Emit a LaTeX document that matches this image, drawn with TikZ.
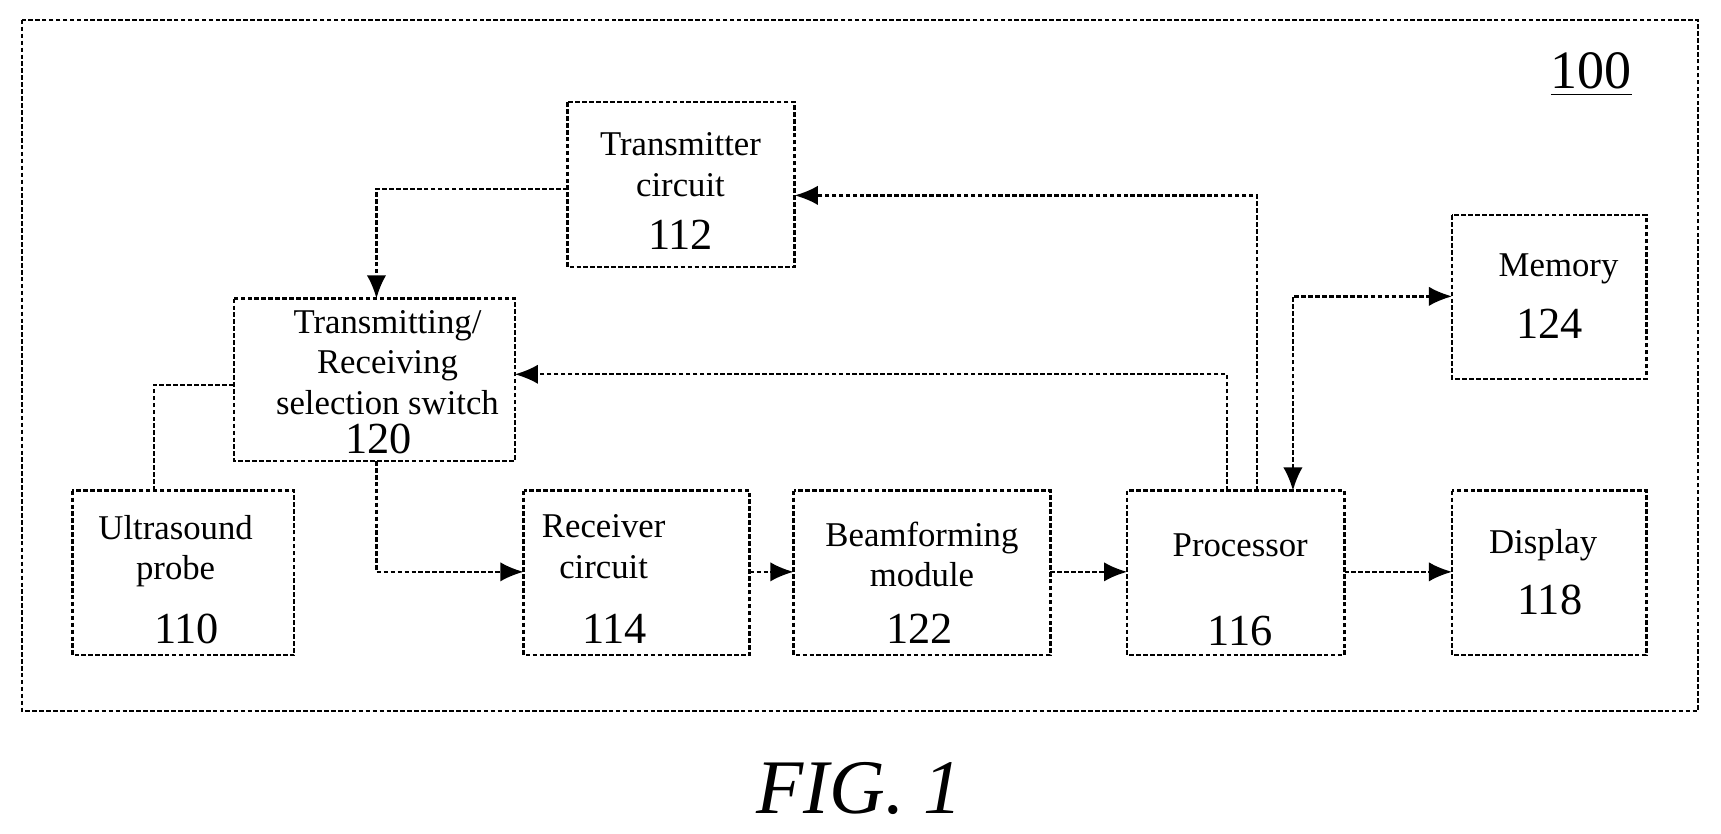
\documentclass[tikz,border=0pt]{standalone}
\usepackage{fontspec}
\setmainfont{Liberation Serif}
\usetikzlibrary{arrows.meta}
\begin{document}
\begin{tikzpicture}[x=0.01cm,y=-0.01cm,
  ln/.style={line width=0.6pt,dash pattern=on 1.2pt off 0.6pt},
  box/.style={draw,ln,rectangle},
  arr/.style={ln,-{Latex[length=6pt,width=5pt]}},
  t/.style={font=\fontsize{9}{10.5}\selectfont,align=center},
  n/.style={font=\fontsize{11.5}{12}\selectfont}]
\useasboundingbox (0,0) rectangle (1568,759);
\draw[ln] (20,18) rectangle (1547,648);
\node[font=\fontsize{14}{15}\selectfont] (lbl) at (1450,68) {\underline{100}};
\draw[box] (517,93) rectangle (724,243);
\coordinate (txL) at (517,172); \coordinate (txR) at (724,178);
\node[t] at (620,150) {Transmitter\\circuit};
\node[n] at (620,214) {112};
\draw[box] (213,272) rectangle (469,420);
\coordinate (swT) at (343,272); \coordinate (swR) at (469,341);
\coordinate (swL) at (213,351); \coordinate (swB) at (343,420);
\node[t] at (353,330) {Transmitting/\\Receiving\\selection switch};
\node[n] at (345,400) {120};
\draw[box] (66,447) rectangle (268,597);
\coordinate (prT) at (140,447);
\node[t] at (160,502) {Ultrasound\\probe};
\node[n] at (170,573) {110};
\draw[box] (477,447) rectangle (683,597);
\coordinate (rxL) at (477,521); \coordinate (rxR) at (683,521);
\node[t] at (550,498) {Receiver\\circuit};
\node[n] at (560,573) {114};
\draw[box] (723,447) rectangle (957,597);
\coordinate (bmL) at (723,521); \coordinate (bmR) at (957,521);
\node[t] at (840,505) {Beamforming\\module};
\node[n] at (838,573) {122};
\draw[box] (1027,447) rectangle (1225,597);
\coordinate (pcL) at (1027,521); \coordinate (pcR) at (1225,521);
\node[t] at (1130,497) {Processor};
\node[n] at (1130,575) {116};
\draw[box] (1323,447) rectangle (1500,597);
\coordinate (dsL) at (1323,521);
\node[t] at (1406,497) {Display};
\node[n] at (1412,547) {118};
\draw[box] (1323,196) rectangle (1500,345);
\coordinate (mmL) at (1323,270);
\node[t] at (1420,245) {Memory};
\node[n] at (1412,295) {124};
\draw[arr] (txL) -| (swT);
\draw[arr] (1145,447) |- (txR);
\draw[arr] (1118,447) |- (swR);
\draw[arr] (swB) |- (rxL);
\draw[ln] (prT) |- (swL);
\draw[arr] (rxR) -- (bmL);
\draw[arr] (bmR) -- (pcL);
\draw[arr] (pcR) -- (dsL);
\draw[ln,{Latex[length=6pt,width=5pt]}-{Latex[length=6pt,width=5pt]}] (1178,447) |- (mmL);
\node[font=\fontsize{20}{22}\selectfont\itshape] (fig) at (783,718) {FIG. 1};
\end{tikzpicture}
\end{document}
